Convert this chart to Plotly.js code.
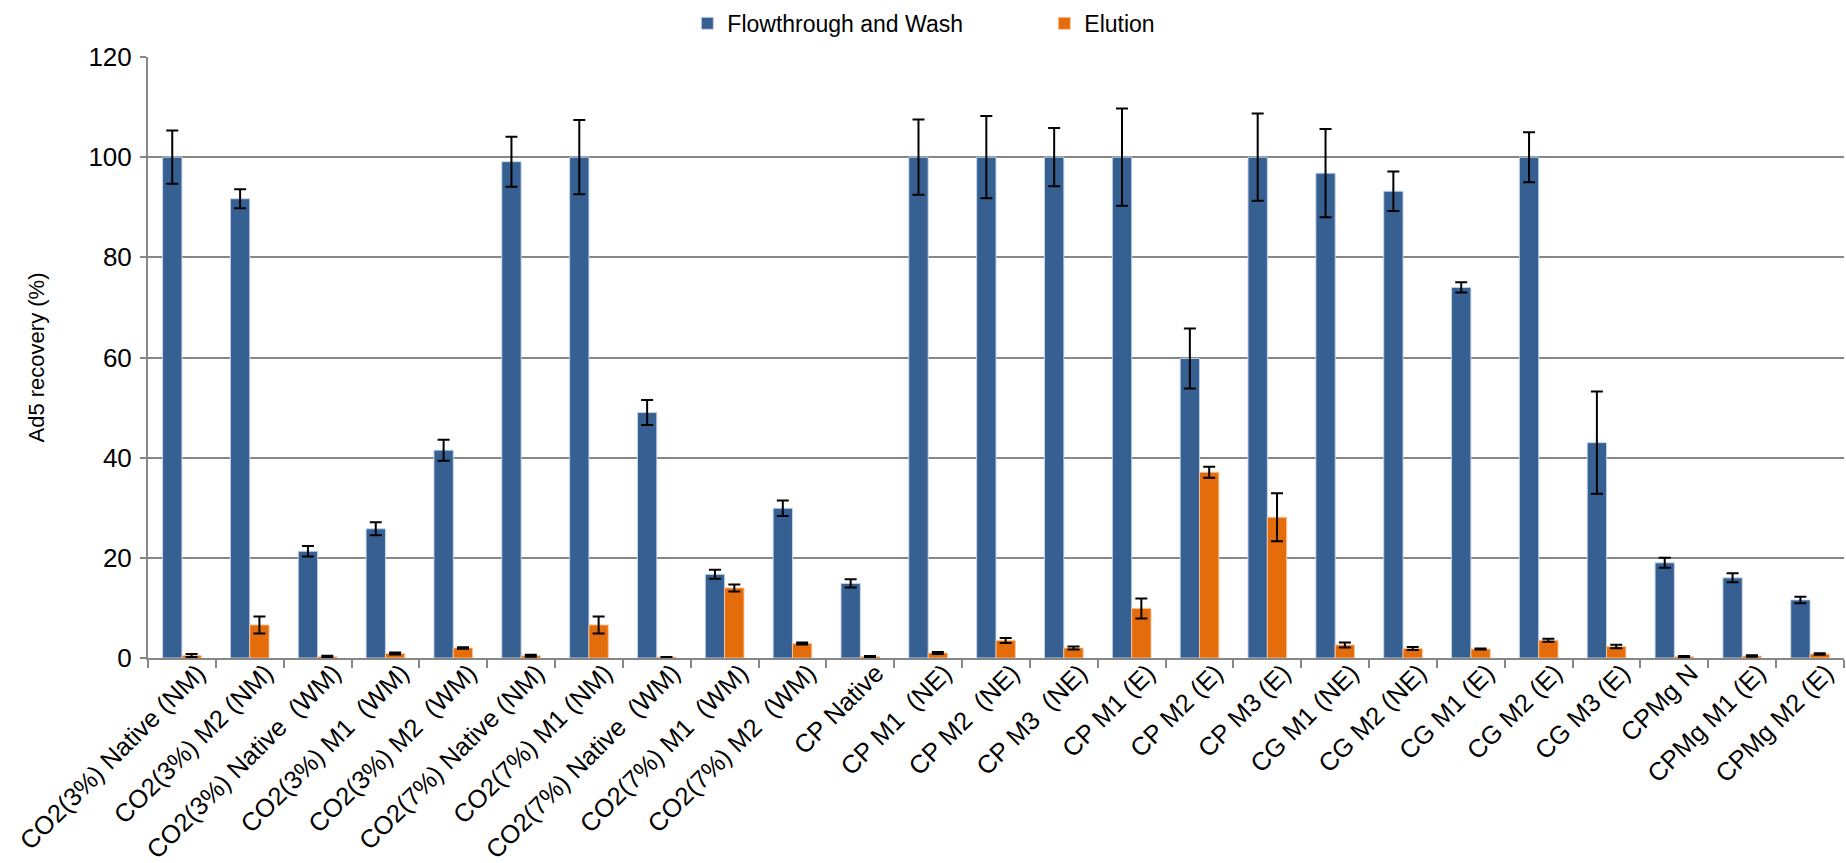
<!DOCTYPE html>
<html>
<head>
<meta charset="utf-8">
<script src="https://cdn.plot.ly/plotly-3.0.1.min.js"></script>
<style>
  html, body { margin: 0; padding: 0; background: #fff; }
  #chart { width: 1846px; height: 863px; }
</style>
</head>
<body>
<div id="chart"></div>
<script>
const categories = [
  "CO2(3%) Native (NM)", "CO2(3%) M2 (NM)", "CO2(3%) Native  (WM)", "CO2(3%) M1  (WM)",
  "CO2(3%) M2  (WM)", "CO2(7%) Native (NM)", "CO2(7%) M1 (NM)", "CO2(7%) Native  (WM)",
  "CO2(7%) M1  (WM)", "CO2(7%) M2  (WM)", "CP Native", "CP M1  (NE)", "CP M2  (NE)",
  "CP M3  (NE)", "CP M1 (E)", "CP M2 (E)", "CP M3 (E)", "CG M1 (NE)", "CG M2 (NE)",
  "CG M1 (E)", "CG M2 (E)", "CG M3 (E)", "CPMg N", "CPMg M1 (E)", "CPMg M2 (E)"
];
const flowthroughWash = [100, 91.7, 21.3, 25.8, 41.5, 99.1, 100, 49, 16.7, 29.9, 14.9,
  100, 100, 100, 100, 59.8, 100, 96.8, 93.2, 74, 100, 43.0, 19.0, 16.0, 11.6];
const flowthroughWashErr = [5.3, 1.9, 1.05, 1.3, 2.1, 5.0, 7.4, 2.5, 0.9, 1.55, 0.8,
  7.5, 8.2, 5.8, 9.7, 6.0, 8.7, 8.8, 3.95, 1.0, 5.0, 10.2, 1.0, 0.9, 0.65];
const elution = [0.5, 6.6, 0.3, 0.9, 2.0, 0.45, 6.6, 0.2, 14.0, 2.9, 0.3,
  1.0, 3.5, 2.0, 9.9, 37.1, 28.1, 2.6, 1.9, 1.8, 3.55, 2.3, 0.3, 0.4, 0.8];
const elutionErr = [0.3, 1.7, 0.15, 0.2, 0.15, 0.2, 1.7, 0, 0.7, 0.2, 0.1,
  0.2, 0.5, 0.3, 2.0, 1.1, 4.8, 0.5, 0.3, 0.1, 0.3, 0.35, 0.1, 0.15, 0.15];
const seriesNames = ["Flowthrough and Wash", "Elution"];
const yTitle = "Ad5 recovery (%)";

const FONT = "Liberation Sans, Arial, sans-serif";
const GRID = "#878787";

const traces = [
  {
    type: "bar", name: seriesNames[0], x: categories, y: flowthroughWash,
    marker: { color: "#376092", line: { color: "rgba(200,215,235,0.9)", width: 1 } },
    error_y: { type: "data", array: flowthroughWashErr, visible: true, color: "#000", thickness: 2, width: 6 }
  },
  {
    type: "bar", name: seriesNames[1], x: categories, y: elution,
    marker: { color: "#E46C0A", line: { color: "rgba(250,200,160,0.9)", width: 1 } },
    error_y: { type: "data", array: elutionErr, visible: true, color: "#000", thickness: 2, width: 6 }
  }
];

const layout = {
  width: 1846, height: 863,
  margin: { l: 148, r: 2, t: 50, b: 205, pad: 0 },
  paper_bgcolor: "#fff", plot_bgcolor: "#fff",
  font: { family: FONT, size: 23, color: "#000" },
  barmode: "group", bargap: 0.43, bargroupgap: 0,
  showlegend: true,
  legend: {
    orientation: "h", x: 0.318, xanchor: "left", y: 1.056, yanchor: "middle",
    font: { family: FONT, size: 23, color: "#000" },
    entrywidth: 312, entrywidthmode: "pixels", traceorder: "normal",
    itemclick: false, itemdoubleclick: false
  },
  xaxis: {
    type: "category", tickangle: -45, tickson: "boundaries",
    ticks: "outside", ticklen: 8, tickcolor: GRID, tickwidth: 2,
    showline: true, linecolor: GRID, linewidth: 2,
    showgrid: false, zeroline: false,
    tickfont: { family: FONT, size: 25.5, color: "#000" },
    ticklabelshift: 16, ticklabelstandoff: -12,
    automargin: false
  },
  yaxis: {
    range: [0, 120], dtick: 20, tick0: 0,
    ticks: "outside", ticklen: 6, tickcolor: GRID, tickwidth: 2,
    showline: true, linecolor: GRID, linewidth: 2,
    showgrid: true, gridcolor: GRID, gridwidth: 2,
    zeroline: false,
    tickfont: { family: FONT, size: 26, color: "#000" },
    ticklabelstandoff: 3,
    title: { text: yTitle, font: { family: FONT, size: 22, color: "#000" }, standoff: 38 },
    automargin: false
  }
};

Plotly.newPlot("chart", traces, layout, { displayModeBar: false, staticPlot: true });
</script>
</body>
</html>
